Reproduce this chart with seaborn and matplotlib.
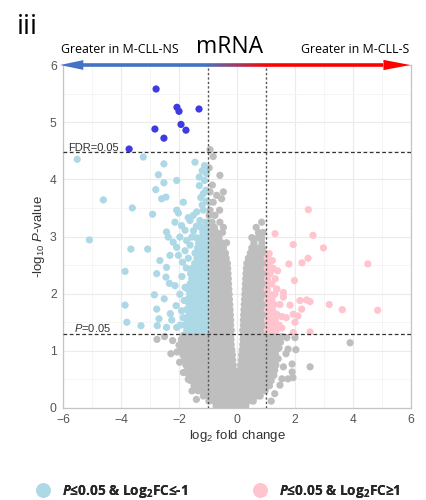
import numpy as np
import pandas as pd
import matplotlib
matplotlib.use("Agg")
import matplotlib.pyplot as plt
import seaborn as sns
from matplotlib.collections import LineCollection
from matplotlib.patches import Polygon
from matplotlib.lines import Line2D

# ---------------- data ----------------
# not significant genes, dense volcano body: (y, [x values])
grey_rows = [
    (0.03, [-0.72, -0.55, -0.38, -0.21, -0.04, 0.13, 0.30]),
    (0.12, [-0.97, -0.80, -0.63, -0.46, -0.29, -0.12, 0.05, 0.22, 0.39, 0.56]),
    (0.21, [-1.16, -0.99, -0.82, -0.65, -0.48, -0.31, -0.14, 0.03, 0.20, 0.37, 0.54, 0.71, 0.80]),
    (0.30, [-1.34, -1.17, -1.00, -0.83, -0.66, -0.49, -0.32, -0.15, 0.02, 0.19, 0.36, 0.53, 0.70, 0.87, 0.97]),
    (0.39, [-1.48, -1.31, -1.14, -0.97, -0.80, -0.63, -0.46, -0.29, -0.12, 0.05, 0.22, 0.39, 0.56, 0.73, 0.90, 1.07, 1.12]),
    (0.48, [-1.60, -1.43, -1.26, -1.09, -0.92, -0.75, -0.58, -0.41, -0.24, -0.07, 0.10, 0.27, 0.44, 0.61, 0.78, 0.95, 1.10, 1.18]),
    (0.57, [-1.66, -1.50, -1.33, -1.16, -0.99, -0.82, -0.65, -0.48, -0.31, -0.14, 0.03, 0.20, 0.37, 0.54, 0.71, 0.88, 1.05, 1.20, 1.27]),
    (0.66, [-1.72, -1.55, -1.38, -1.21, -1.04, -0.87, -0.70, -0.53, -0.36, -0.21, -0.10, 0.10, 0.21, 0.36, 0.53, 0.70, 0.87, 1.04, 1.18, 1.30]),
    (0.75, [-1.76, -1.59, -1.42, -1.25, -1.08, -0.91, -0.74, -0.57, -0.40, -0.25, -0.13, 0.13, 0.26, 0.43, 0.60, 0.77, 0.94, 1.11, 1.25, 1.34]),
    (0.84, [-1.82, -1.65, -1.48, -1.31, -1.14, -0.97, -0.80, -0.63, -0.46, -0.30, -0.15, 0.15, 0.30, 0.46, 0.63, 0.80, 0.97, 1.14, 1.30]),
    (0.93, [-1.86, -1.69, -1.52, -1.35, -1.18, -1.01, -0.84, -0.67, -0.50, -0.33, -0.16, 0.16, 0.33, 0.50, 0.67, 0.84, 1.01, 1.18, 1.33]),
    (1.02, [-1.90, -1.73, -1.56, -1.39, -1.22, -1.05, -0.88, -0.71, -0.54, -0.37, -0.18, 0.18, 0.37, 0.54, 0.71, 0.88, 1.05, 1.22, 1.36]),
    (1.11, [-1.94, -1.77, -1.60, -1.43, -1.26, -1.09, -0.92, -0.75, -0.58, -0.41, -0.20, 0.20, 0.41, 0.58, 0.75, 0.92, 1.09, 1.24, 1.35]),
    (1.20, [-1.92, -1.75, -1.58, -1.41, -1.24, -1.07, -0.90, -0.73, -0.56, -0.39, -0.21, 0.21, 0.39, 0.56, 0.73, 0.90, 1.07, 1.22, 1.36]),
    (1.27, [-1.85, -1.68, -1.51, -1.34, -1.17, -1.02, -0.85, -0.68, -0.51, -0.34, -0.22, 0.22, 0.34, 0.51, 0.68, 0.85, 1.02, 1.17, 1.30]),
    (1.36, [-0.98, -0.81, -0.64, -0.47, -0.31, -0.20, 0.20, 0.31, 0.47, 0.64, 0.81, 0.98]),
    (1.45, [-0.98, -0.86, -0.69, -0.52, -0.36, -0.22, 0.22, 0.36, 0.52, 0.69, 0.86, 0.98]),
    (1.54, [-0.98, -0.81, -0.64, -0.47, -0.32, -0.22, 0.22, 0.32, 0.47, 0.64, 0.81, 0.98]),
    (1.63, [-0.98, -0.86, -0.69, -0.52, -0.37, -0.23, 0.23, 0.37, 0.52, 0.69, 0.86, 0.98]),
    (1.72, [-0.98, -0.81, -0.64, -0.47, -0.33, -0.24, 0.24, 0.33, 0.47, 0.64, 0.81, 0.98]),
    (1.81, [-0.98, -0.86, -0.69, -0.52, -0.38, -0.25, 0.25, 0.38, 0.52, 0.69, 0.86, 0.98]),
    (1.90, [-0.98, -0.81, -0.64, -0.48, -0.34, -0.26, 0.26, 0.34, 0.48, 0.64, 0.81, 0.98]),
    (1.99, [-0.98, -0.86, -0.69, -0.53, -0.39, -0.27, 0.27, 0.39, 0.53, 0.69, 0.86, 0.98]),
    (2.08, [-0.98, -0.81, -0.64, -0.49, -0.36, -0.28, 0.28, 0.36, 0.49, 0.64, 0.81, 0.98]),
    (2.17, [-0.98, -0.86, -0.69, -0.54, -0.41, -0.29, 0.29, 0.41, 0.54, 0.69, 0.86, 0.98]),
    (2.26, [-0.98, -0.81, -0.65, -0.50, -0.38, -0.30, 0.30, 0.38, 0.50, 0.65, 0.81, 0.98]),
    (2.35, [-0.98, -0.86, -0.70, -0.55, -0.43, -0.31, 0.31, 0.43, 0.55, 0.70, 0.86, 0.98]),
    (2.44, [-0.98, -0.81, -0.65, -0.50, -0.38, -0.32, 0.32, 0.40, 0.52, 0.66, 0.81, 0.97]),
    (2.53, [-0.98, -0.86, -0.70, -0.55, -0.44, -0.33, 0.34, 0.46, 0.58, 0.72, 0.86, 0.97]),
    (2.62, [-0.98, -0.81, -0.65, -0.50, -0.37, 0.39, 0.52, 0.68, 0.86, 0.97]),
    (2.71, [-0.95, -0.84, -0.68, -0.52, -0.40, 0.46, 0.62, 0.78, 0.92]),
    (2.80, [-0.97, -0.78, -0.62, -0.47, 0.51, 0.70, 0.88]),
    (2.89, [-0.92, -0.70, -0.53, -0.36, 0.58, 0.86]),
    (2.98, [-0.96, -0.82, -0.62, 0.51, 0.72, 0.85]),
    (3.07, [-0.88, -0.70, -0.50, 0.74, 0.90]),
    (3.16, [-0.95, -0.78, -0.47, 0.66]),
    (3.25, [-0.86, -0.59, 0.85]),
    (3.37, [-0.96, -0.76]),
    (3.46, [-0.93, -0.60]),
    (3.60, [-0.97, -0.82]),
    (3.66, [-0.53]),
    (3.72, [-0.70]),
    (3.78, [-0.93, -0.47]),
    (3.90, [-0.85]),
    (4.07, [-0.59]),
    (4.20, [-0.96]),
    (4.40, [-0.82]),
    (4.52, [-0.93]),
]
grey_extra = [
    (-2.76, 1.20), (-2.50, 1.25), (-2.22, 1.18), (-2.28, 0.95), (-2.07, 0.98),
    (-2.00, 1.10), (-1.98, 0.80), (-1.85, 0.62), (-1.68, 0.50), (-1.55, 0.30),
    (-1.40, 0.15), (-1.34, 0.62), (-1.28, 0.39),
    (3.90, 1.14), (2.52, 0.72), (2.03, 1.02), (1.76, 1.03), (1.72, 1.23),
    (1.90, 0.77), (1.90, 0.63), (1.69, 0.95), (1.55, 0.51), (1.76, 0.51),
    (1.93, 0.53), (1.42, 0.86), (1.45, 1.05), (2.00, 1.23), (1.55, 1.25),
    (1.60, 0.72), (1.48, 0.40), (1.30, 0.25), (1.18, 0.12), (1.50, 1.15),
]

# P<=0.05 & log2FC<=-1 (light blue)
down_rows = [
    (1.36, [-1.05, -1.22, -1.39, -1.56, -1.73]),
    (1.45, [-1.05, -1.14, -1.31, -1.48, -1.65, -1.80]),
    (1.54, [-1.05, -1.22, -1.39, -1.56, -1.72]),
    (1.63, [-1.05, -1.14, -1.31, -1.48, -1.65]),
    (1.72, [-1.05, -1.22, -1.39, -1.56, -1.74]),
    (1.81, [-1.05, -1.14, -1.31, -1.48, -1.65]),
    (1.90, [-1.05, -1.22, -1.39, -1.56, -1.70]),
    (1.99, [-1.05, -1.14, -1.31, -1.48, -1.63]),
    (2.08, [-1.05, -1.22, -1.39, -1.56, -1.70]),
    (2.17, [-1.05, -1.14, -1.31, -1.48, -1.62]),
    (2.26, [-1.05, -1.22, -1.39, -1.56]),
    (2.35, [-1.05, -1.14, -1.31, -1.48, -1.60]),
    (2.44, [-1.05, -1.22, -1.39, -1.55]),
    (2.53, [-1.05, -1.14, -1.31, -1.46]),
    (2.62, [-1.05, -1.22, -1.38]),
    (2.71, [-1.05, -1.14, -1.30, -1.45]),
    (2.80, [-1.05, -1.22, -1.36]),
    (2.89, [-1.05, -1.16, -1.32]),
    (2.98, [-1.05, -1.22, -1.40]),
    (3.07, [-1.05, -1.18]),
    (3.16, [-1.05, -1.25]),
    (3.25, [-1.08]),
]
down_extra = [
    (-5.51, 4.35), (-3.23, 4.39), (-2.52, 4.27), (-1.45, 4.30), (-1.12, 4.24),
    (-2.71, 4.08), (-2.52, 3.94), (-2.08, 3.98), (-2.80, 3.82), (-1.30, 4.04),
    (-1.30, 3.89), (-1.07, 3.81), (-1.16, 3.75), (-2.45, 3.69), (-2.60, 3.66),
    (-1.85, 3.60), (-4.61, 3.64), (-3.61, 3.50), (-2.91, 3.39), (-2.08, 3.46),
    (-2.02, 3.41), (-1.68, 3.33), (-1.51, 3.37), (-1.16, 3.46), (-1.39, 3.43),
    (-1.28, 3.28), (-2.14, 3.25), (-5.09, 2.94), (-3.66, 2.78), (-3.08, 2.78),
    (-2.43, 3.08), (-2.37, 2.99), (-2.20, 2.90), (-2.08, 2.81), (-1.91, 3.19),
    (-1.79, 3.11), (-1.62, 3.28), (-1.97, 2.99), (-1.74, 2.93), (-1.56, 2.99),
    (-2.02, 2.67), (-2.31, 2.67), (-2.66, 2.58), (-2.43, 2.46), (-2.77, 2.35),
    (-1.79, 2.75), (-3.86, 2.39), (-3.86, 1.80), (-3.80, 1.50), (-3.31, 1.44),
    (-2.45, 2.29), (-2.33, 2.18), (-2.85, 1.98), (-2.51, 1.91), (-2.77, 1.73),
    (-2.75, 1.44), (-2.25, 1.54), (-2.10, 1.79), (-1.91, 1.70), (-1.97, 1.99),
    (-2.14, 2.14), (-1.79, 2.11), (-1.85, 1.58), (-2.08, 1.41), (-2.43, 1.41),
    (-2.69, 1.56), (-1.90, 2.30), (-1.75, 2.45), (-1.88, 2.55), (-1.68, 2.62),
    (-1.62, 2.85), (-1.50, 3.10), (-1.40, 3.18), (-1.82, 1.88), (-1.95, 1.45),
    (-2.30, 1.65), (-1.12, 3.98), (-1.05, 3.62), (-1.20, 3.55), (-1.25, 3.68),
    (-1.05, 4.10), (-1.20, 4.15),
]

# P<=0.05 & log2FC>=1 (pink)
up_rows = [
    (1.36, [1.04, 1.20, 1.36]),
    (1.45, [1.10, 1.27, 1.45]),
    (1.54, [1.04, 1.18, 1.32]),
    (1.63, [1.12, 1.37]),
    (1.72, [1.04, 1.22]),
    (1.81, [1.10, 1.28, 1.48]),
    (1.90, [1.04, 1.20]),
    (1.99, [1.12, 1.30]),
    (2.08, [1.04, 1.37]),
    (2.17, [1.10, 1.20]),
    (2.26, [1.05, 1.32]),
    (2.35, [1.15]),
    (2.44, [1.04, 1.25]),
    (2.53, [1.12]),
    (2.62, [1.04]),
]
up_extra = [
    (2.46, 3.47), (1.31, 3.05), (2.62, 3.02), (1.94, 2.86), (2.98, 2.80),
    (1.11, 2.70), (1.22, 2.58), (1.79, 2.52), (2.24, 2.54), (2.45, 2.62),
    (4.51, 2.52), (1.98, 2.23), (1.37, 2.08), (1.60, 2.02), (1.60, 1.94),
    (1.83, 1.80), (2.17, 1.88), (2.40, 1.89), (2.52, 1.86), (3.18, 1.81),
    (3.63, 1.72), (4.85, 1.71), (2.23, 1.73), (1.94, 1.64), (2.00, 1.50),
    (1.37, 1.64), (1.94, 1.32), (2.52, 1.33), (1.55, 1.60), (1.70, 1.58),
    (2.10, 1.61), (1.40, 2.40), (1.55, 1.40),
]

# FDR significant (dark blue)
fdr_points = [
    (-2.79, 5.58), (-2.07, 5.26), (-2.00, 5.19), (-1.31, 5.23), (-1.93, 4.96),
    (-2.83, 4.88), (-1.76, 4.86), (-2.52, 4.72), (-3.72, 4.53),
]

p_cut = 1.301      # -log10(0.05)
fdr_cut = 4.47
fc_cut = 1.0

groups = ["ns", "down", "up", "fdr"]
palette = {"ns": "#bebebe", "down": "#add8e6", "up": "#ffc4ce", "fdr": "#3c3ce2"}

def expand(rows):
    return [(x, y) for y, xs in rows for x in xs]

records = []
for g, pts in [("ns", expand(grey_rows) + grey_extra),
               ("down", expand(down_rows) + down_extra),
               ("up", expand(up_rows) + up_extra),
               ("fdr", fdr_points)]:
    for x, y in pts:
        records.append((x, y, g))
df = pd.DataFrame(records, columns=["log2FC", "nlogP", "group"])

# ---------------- styling ----------------
sns.set_theme(style="white")
plt.rcParams["font.family"] = ["Liberation Sans", "DejaVu Sans"]
plt.rcParams["mathtext.fontset"] = "custom"
plt.rcParams["mathtext.rm"] = "Liberation Sans"
plt.rcParams["mathtext.it"] = "Liberation Sans:italic"
plt.rcParams["mathtext.bf"] = "Open Sans:bold"
plt.rcParams["mathtext.bfit"] = "Open Sans:italic:bold"

W, H = 427, 500
fig = plt.figure(figsize=(W / 100, H / 100), dpi=100)
ax = fig.add_axes([63 / W, 1 - 408 / H, 348 / W, 343 / H])

sns.scatterplot(data=df, x="log2FC", y="nlogP", hue="group", hue_order=groups,
                palette=palette, s=27, linewidth=0, edgecolor="none",
                legend=False, ax=ax, zorder=3)

ax.set_xlim(-6, 6)
ax.set_ylim(0, 6)
ax.set_xticks(np.arange(-6, 7, 2))
ax.set_yticks(np.arange(0, 7, 1))
ax.set_xticks(np.arange(-5, 6, 2), minor=True)
ax.set_yticks(np.arange(0.5, 6, 1), minor=True)
ax.grid(True, which="major", color="#ebebeb", lw=0.8)
ax.grid(True, which="minor", color="#f4f4f4", lw=0.6)
ax.set_axisbelow(True)
ax.tick_params(which="major", length=3, width=0.7, color="#999999",
               labelsize=8.7, labelcolor="#555555", pad=1.5)
ax.tick_params(which="minor", length=0)
for s in ax.spines.values():
    s.set_color("#c4c4c4")
    s.set_linewidth(0.9)

ax.set_xlabel(r"log$_{2}$ fold change", fontsize=9.5, color="#333333", labelpad=1)
ax.set_ylabel(r"-log$_{10}$ $\it{P}$-value", fontsize=9.5, color="#333333", labelpad=2)

# threshold lines
for xv in (-fc_cut, fc_cut):
    ax.axvline(xv, color="#555555", lw=1.0, dashes=(1.6, 1.6), zorder=4)
for yv in (p_cut, fdr_cut):
    ax.axhline(yv, color="#333333", lw=0.9, dashes=(3, 2), zorder=4)
ax.text(-5.83, fdr_cut + 0.02, "FDR=0.05", fontsize=8, color="#333333",
        va="baseline", ha="left", zorder=5)
ax.text(-5.62, p_cut + 0.02, r"$\it{P}$=0.05", fontsize=8, color="#333333",
        va="baseline", ha="left", zorder=5)

# gradient arrow on top
x0, x1 = -5.3, 5.05
xs = np.linspace(x0, x1, 200)
c_blue = np.array([0.267, 0.447, 0.769])
c_red = np.array([1.0, 0.0, 0.0])
segs, cols = [], []
for a, b in zip(xs[:-1], xs[1:]):
    m = 0.5 * (a + b)
    t = np.clip((m + 1.1) / 2.2, 0, 1)
    segs.append([(a, 6), (b, 6)])
    cols.append(tuple(c_blue * (1 - t) + c_red * t))
lc = LineCollection(segs, colors=cols, linewidths=2.6, clip_on=False, zorder=6,
                    capstyle="butt")
ax.add_collection(lc)
ax.add_patch(Polygon([(-6.1, 6), (-5.3, 6.085), (-5.3, 5.915)], closed=True,
                     color=tuple(c_blue), clip_on=False, zorder=7, lw=0))
ax.add_patch(Polygon([(5.97, 6), (5.05, 6.09), (5.05, 5.91)], closed=True,
                     color="red", clip_on=False, zorder=7, lw=0))

# titles
fig.text(17 / W, 1 - 34 / H, "iii", fontsize=20, family="Open Sans",
         ha="left", va="baseline", color="black")
fig.text(230 / W, 1 - 53 / H, "mRNA", fontsize=16.5, family="Open Sans",
         ha="center", va="baseline", color="black")
fig.text(120 / W, 1 - 53 / H, "Greater in M-CLL-NS", fontsize=8.9,
         family="Open Sans", ha="center", va="baseline", color="black")
fig.text(355 / W, 1 - 53 / H, "Greater in M-CLL-S", fontsize=8.9,
         family="Open Sans", ha="center", va="baseline", color="black")

# legend
lab_down = r"$\mathbfit{P}$≤0.05 & Log$_{\mathbf{2}}$FC≤-1"
lab_up = r"$\mathbfit{P}$≤0.05 & Log$_{\mathbf{2}}$FC≥1"
fs = 9.8
for px, col, lab in [(43, palette["down"], lab_down), (260, palette["up"], lab_up)]:
    h = Line2D([], [], marker="o", ls="none", markersize=10.5,
               markerfacecolor=col, markeredgewidth=0)
    hl = fs * 100 / 72 * 1.0
    leg = fig.legend([h], [lab], loc="center left",
                     bbox_to_anchor=((px - hl / 2) / W, 1 - 491 / H),
                     frameon=False, borderpad=0, borderaxespad=0,
                     handlelength=1.0, handletextpad=0.9,
                     prop={"family": "Open Sans", "weight": "bold", "size": fs})
    fig.add_artist(leg)

fig.savefig("out.png", dpi=100)
